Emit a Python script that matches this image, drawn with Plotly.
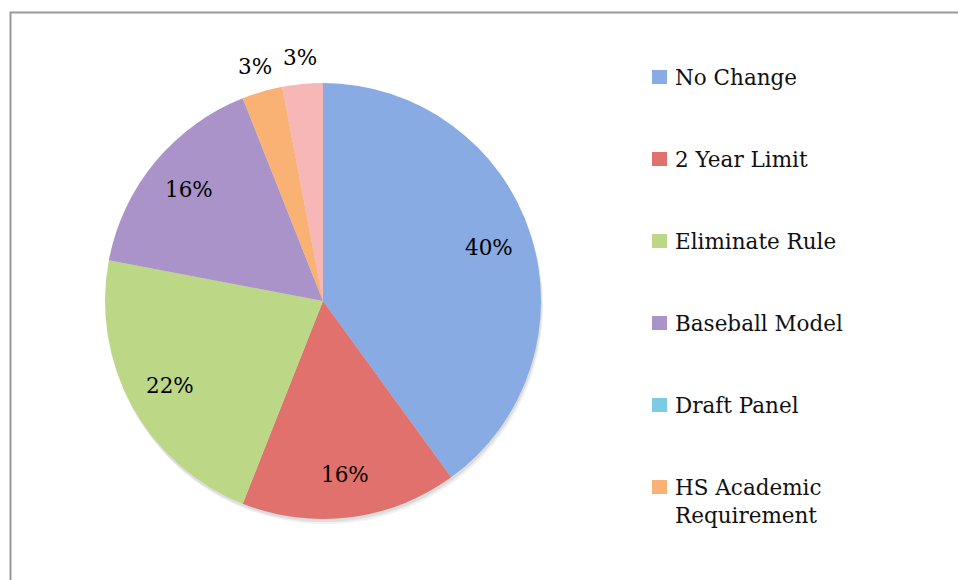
import math
import plotly.graph_objects as go

categories = ["No Change", "2 Year Limit", "Eliminate Rule", "Baseball Model",
              "Draft Panel", "HS Academic<br>Requirement", "Other"]
shares = [40, 16, 22, 16, 0, 3, 3]
colors = ["#87abe2", "#e0716c", "#bcd887", "#a993c8", "#7bcbe2", "#fab274", "#f6b7b6"]

W, H = 958, 580


def px(x):
    return x / W


def py(y):
    # pixel from top -> paper fraction from bottom
    return 1 - y / H


# pie centre and radius in pixels
cx, cy, R = 323, 301, 218

fig = go.Figure()
fig.add_trace(
    go.Pie(
        labels=categories,
        values=shares,
        textinfo="none",
        marker=dict(colors=colors, line=dict(width=0)),
        sort=False,
        direction="clockwise",
        rotation=0,
        showlegend=False,
        hoverinfo="label+percent",
        domain=dict(x=[px(cx - R), px(cx + R)],
                    y=[py(cy + R), py(cy - R)]),
    )
)

# soft drop shadow under the pie
for dx, dy, a in [(2, 5, 0.06), (1, 3, 0.08)]:
    fig.add_shape(type="circle", xref="paper", yref="paper", layer="below",
                  x0=px(cx - R + dx), x1=px(cx + R + dx),
                  y0=py(cy + R + dy), y1=py(cy - R + dy),
                  line=dict(width=0), fillcolor=f"rgba(0,0,0,{a})")

# percent labels: inside for big slices, just outside for small ones
total = sum(shares)
cum = 0
for v in shares:
    mid = (cum + v / 2) / total * 2 * math.pi
    cum += v
    if v == 0:
        continue
    k = 0.8 if v >= 5 else 1.12
    fig.add_annotation(
        x=px(cx + k * R * math.sin(mid)), y=py(cy - k * R * math.cos(mid)),
        xref="paper", yref="paper", text=f"{v}%", showarrow=False,
        xanchor="center", yanchor="middle",
        font=dict(family="DejaVu Serif", size=21.5, color="black"),
    )

# outer frame
fig.add_shape(type="rect", xref="paper", yref="paper",
              x0=px(10.5), x1=px(W + 20), y0=py(H + 20), y1=py(12.5),
              line=dict(color="#999999", width=2), fillcolor="rgba(0,0,0,0)")

# hand-made legend, spacing like the original (entries below the frame are cut off)
y = 77
for name, col in zip(categories, colors):
    if y + 10 > H:
        break
    fig.add_shape(type="rect", xref="paper", yref="paper",
                  x0=px(652), x1=px(667), y0=py(y + 7), y1=py(y - 7),
                  line=dict(width=0), fillcolor=col)
    fig.add_annotation(x=px(673), y=py(y - 14), xref="paper", yref="paper",
                       text=name, showarrow=False, xanchor="left", yanchor="top",
                       align="left",
                       font=dict(family="DejaVu Serif", size=21.5, color="#111111"))
    y += 82 + 32 * name.count("<br>")

fig.update_layout(
    width=W,
    height=H,
    margin=dict(l=0, r=0, b=0, t=0),
    paper_bgcolor="white",
    plot_bgcolor="white",
)

fig.write_html("out.html", config={"displayModeBar": False},
               post_script="document.body.style.margin='0';")
